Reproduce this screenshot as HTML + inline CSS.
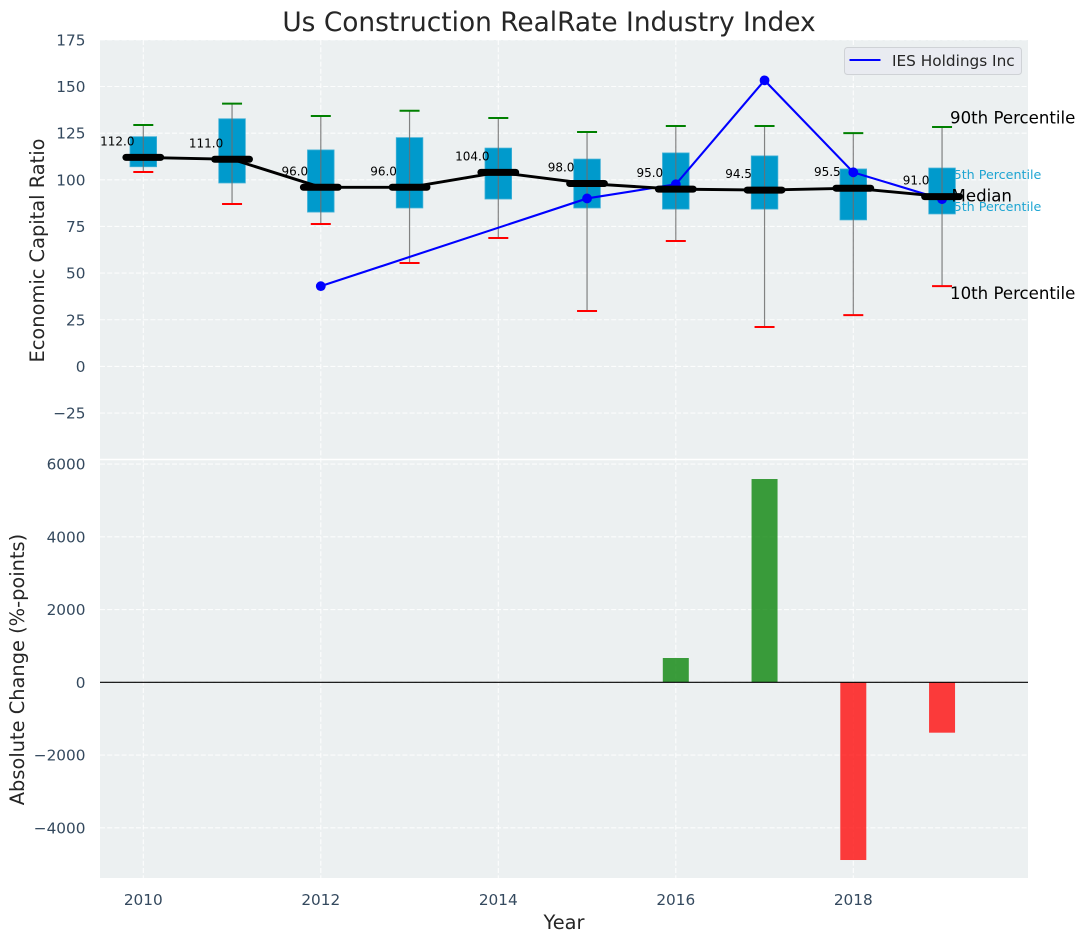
<!DOCTYPE html>
<html>
<head>
<meta charset="utf-8">
<title>Us Construction RealRate Industry Index</title>
<style>
html,body{margin:0;padding:0;background:#fff;width:1085px;height:942px;overflow:hidden}
svg{display:block}
text{font-family:"DejaVu Sans","Liberation Sans",sans-serif}
</style>
</head>
<body>
<svg id="chart" xmlns="http://www.w3.org/2000/svg" width="1085" height="942" viewBox="0 0 1085 942">
  <rect x="0" y="0" width="1085" height="942" fill="#ffffff"/>
  <rect x="100" y="40" width="928" height="419" fill="#ecf0f1"/>
  <rect x="100" y="460" width="928" height="418" fill="#ecf0f1"/>
  <g id="grid"></g>
  <g id="ticks"></g>
  <g id="endLabels"></g>
  <g id="boxes"></g>
  <g id="whiskers"></g>
  <g id="company"></g>
  <g id="medians"></g>
  <g id="bars"></g>
  <line x1="100" x2="1028" y1="682.3" y2="682.3" stroke="#000000" stroke-width="1.2"/>
  <line x1="100" x2="1028" y1="459.5" y2="459.5" stroke="#ffffff" stroke-width="1.6"/>
  <text x="549" y="31" text-anchor="middle" font-size="26.4" fill="#262626">Us Construction RealRate Industry Index</text>
  <text transform="translate(44,250.5) rotate(-90)" text-anchor="middle" font-size="19.4" fill="#262626">Economic Capital Ratio</text>
  <text transform="translate(24,669.5) rotate(-90)" text-anchor="middle" font-size="19.4" fill="#262626">Absolute Change (%-points)</text>
  <text x="564" y="929" text-anchor="middle" font-size="19.4" fill="#262626">Year</text>
  <g>
    <rect x="844.5" y="47.5" width="177" height="27" rx="3" fill="#e9ebf1" stroke="#cfd2d6" stroke-width="1"/>
    <line x1="849.5" x2="880.5" y1="60" y2="60" stroke="#0000ff" stroke-width="2.1"/>
    <text x="892" y="66" font-size="15.3" fill="#262626">IES Holdings Inc</text>
  </g>
</svg>
<script>
// Chart data
const years = [2010, 2011, 2012, 2013, 2014, 2015, 2016, 2017, 2018, 2019];
const p90 = [129.4, 140.8, 134.2, 137, 133.1, 125.6, 128.8, 128.8, 125, 128.3];
const p75 = [123.1, 132.7, 116, 122.6, 117, 111.1, 114.4, 112.8, 105.8, 106.3];
const median = [112, 111, 96, 96, 104, 98, 95, 94.5, 95.5, 91];
const p25 = [107, 98.3, 82.7, 84.9, 89.7, 84.9, 84.3, 84.3, 78.5, 81.7];
const p10 = [104.2, 87, 76.3, 55.4, 68.8, 29.7, 67.2, 21.1, 27.5, 43];
const companyYears = [2012, 2015, 2016, 2017, 2018, 2019];
const companyValues = [43, 90, 97.6, 153.3, 104, 89.6];
const changeYears = [2016, 2017, 2018, 2019];
const changeValues = [668, 5588, -4885, -1385];
const xTicks = [2010, 2012, 2014, 2016, 2018];
const topTicks = [-25, 0, 25, 50, 75, 100, 125, 150, 175];
const bottomTicks = [-4000, -2000, 0, 2000, 4000, 6000];

// Axis functions
const xScale = v => 143.3 + (v - 2010) * 88.75;
const yTop = v => 366.4 - v * 1.866;
const yBottom = v => 682.3 - v * 0.03638;

const NS = 'http://www.w3.org/2000/svg';
function make(parent, tag, props) {
  const el = document.createElementNS(NS, tag);
  for (const k in props) el.setAttribute(k, props[k]);
  parent.appendChild(el);
  return el;
}
const fmt = v => String(v).replace('-', '\u2212');
const gridStyle = {stroke: '#ffffff', 'stroke-width': 1.1, 'stroke-dasharray': '5 2.2', 'stroke-opacity': 0.85};
const grid = document.getElementById('grid');
const ticks = document.getElementById('ticks');

xTicks.forEach(t => {
  const a = make(grid, 'line', Object.assign({x1: xScale(t), x2: xScale(t), y1: 40, y2: 878}, gridStyle));
  
  
  const l = make(ticks, 'text', {x: xScale(t), y: 905, 'text-anchor': 'middle', 'font-size': 15.3, fill: '#34495e'});
  l.textContent = t;
  
  
});
topTicks.forEach(t => {
  const a = make(grid, 'line', Object.assign({x1: 100, x2: 1028, y1: yTop(t), y2: yTop(t)}, gridStyle));
  
  
  const l = make(ticks, 'text', {x: 85.5, y: yTop(t) + 5.5, 'text-anchor': 'end', 'font-size': 15.3, fill: '#34495e'});
  l.textContent = fmt(t);
  
  
});
bottomTicks.forEach(t => {
  const a = make(grid, 'line', Object.assign({x1: 100, x2: 1028, y1: yBottom(t), y2: yBottom(t)}, gridStyle));
  
  
  const l = make(ticks, 'text', {x: 85.5, y: yBottom(t) + 5.5, 'text-anchor': 'end', 'font-size': 15.3, fill: '#34495e'});
  l.textContent = fmt(t);
  
  
});

// Labels beside the last year (drawn below the boxes, as in the reference)
const last = years.length - 1;
const endLabels = document.getElementById('endLabels');
const lastX = xScale(years[last]);
function endLabel(text, dx, y, size, color) {
  const t = make(endLabels, 'text', {x: lastX + dx, y: y, 'font-size': size, fill: color});
  t.textContent = text;
  return t;
}
const e75 = endLabel('75th Percentile', 3.5, yTop(p75[last]) + 11, 12.7, '#1ea5d2');


const e25 = endLabel('25th Percentile', 3.5, yTop(p25[last]) - 3, 12.7, '#1ea5d2');



// Boxes
const boxes = document.getElementById('boxes');
years.forEach((yr, i) => {
  const top = yTop(p75[i]);
  const b = make(boxes, 'rect', {x: xScale(yr) - 13.3, y: top, width: 26.6, height: yTop(p25[i]) - top, fill: '#009acc', stroke: '#3fb0d6', 'stroke-width': 0.8});
  
  
});

// Whiskers and caps
const whiskers = document.getElementById('whiskers');
years.forEach((yr, i) => {
  const x = xScale(yr);
  const w = make(whiskers, 'line', {x1: x, x2: x, y1: yTop(p90[i]), y2: yTop(p10[i]), stroke: '#6e6e6e', 'stroke-opacity': 0.85, 'stroke-width': 1.2});
  
  
  const c90 = make(whiskers, 'line', {x1: x - 10, x2: x + 10, y1: yTop(p90[i]), y2: yTop(p90[i]), stroke: '#008000', 'stroke-width': 2});
  
  
  const c10 = make(whiskers, 'line', {x1: x - 10, x2: x + 10, y1: yTop(p10[i]), y2: yTop(p10[i]), stroke: '#ff0000', 'stroke-width': 2});
  
  
});

// Company series
const company = document.getElementById('company');
const companyLine = make(company, 'polyline', {points: companyYears.map((yr, i) => xScale(yr) + ',' + yTop(companyValues[i])).join(' '), fill: 'none', stroke: '#0000ff', 'stroke-width': 2.1});


companyYears.forEach((yr, i) => {
  const d = make(company, 'circle', {cx: xScale(yr), cy: yTop(companyValues[i]), r: 4.9, fill: '#0000ff'});
  
  
});

// Median series
const medians = document.getElementById('medians');
const medianLine = make(medians, 'polyline', {points: years.map((yr, i) => xScale(yr) + ',' + yTop(median[i])).join(' '), fill: 'none', stroke: '#000000', 'stroke-width': 2.9});


years.forEach((yr, i) => {
  const x = xScale(yr);
  const y = yTop(median[i]);
  const s = make(medians, 'line', {x1: x - 17.4, x2: x + 17.4, y1: y, y2: y, stroke: '#000000', 'stroke-width': 7, 'stroke-linecap': 'round'});
  
  
  const t = make(medians, 'text', {x: x - 26, y: y - 12, 'text-anchor': 'middle', 'font-size': 12, fill: '#000000'});
  t.textContent = median[i].toFixed(1);
  
  
});
const e90 = make(medians, 'text', {x: lastX + 8, y: yTop(p90[last]) - 3.5, 'font-size': 16.6, fill: '#000000'});
e90.textContent = '90th Percentile';


const eMed = make(medians, 'text', {x: lastX + 9.5, y: yTop(median[last]) + 5, 'font-size': 16.6, fill: '#000000'});
eMed.textContent = 'Median';


const e10 = make(medians, 'text', {x: lastX + 8, y: yTop(p10[last]) + 13, 'font-size': 16.6, fill: '#000000'});
e10.textContent = '10th Percentile';



// Change bars
const bars = document.getElementById('bars');
changeYears.forEach((yr, i) => {
  const v = changeValues[i];
  const y0 = yBottom(0);
  const y1 = yBottom(v);
  const b = make(bars, 'rect', {x: xScale(yr) - 13, y: Math.min(y0, y1), width: 26, height: Math.abs(y1 - y0), fill: v >= 0 ? '#008000' : '#ff0000', 'fill-opacity': 0.76});
  
  
});
</script>
</body>
</html>
